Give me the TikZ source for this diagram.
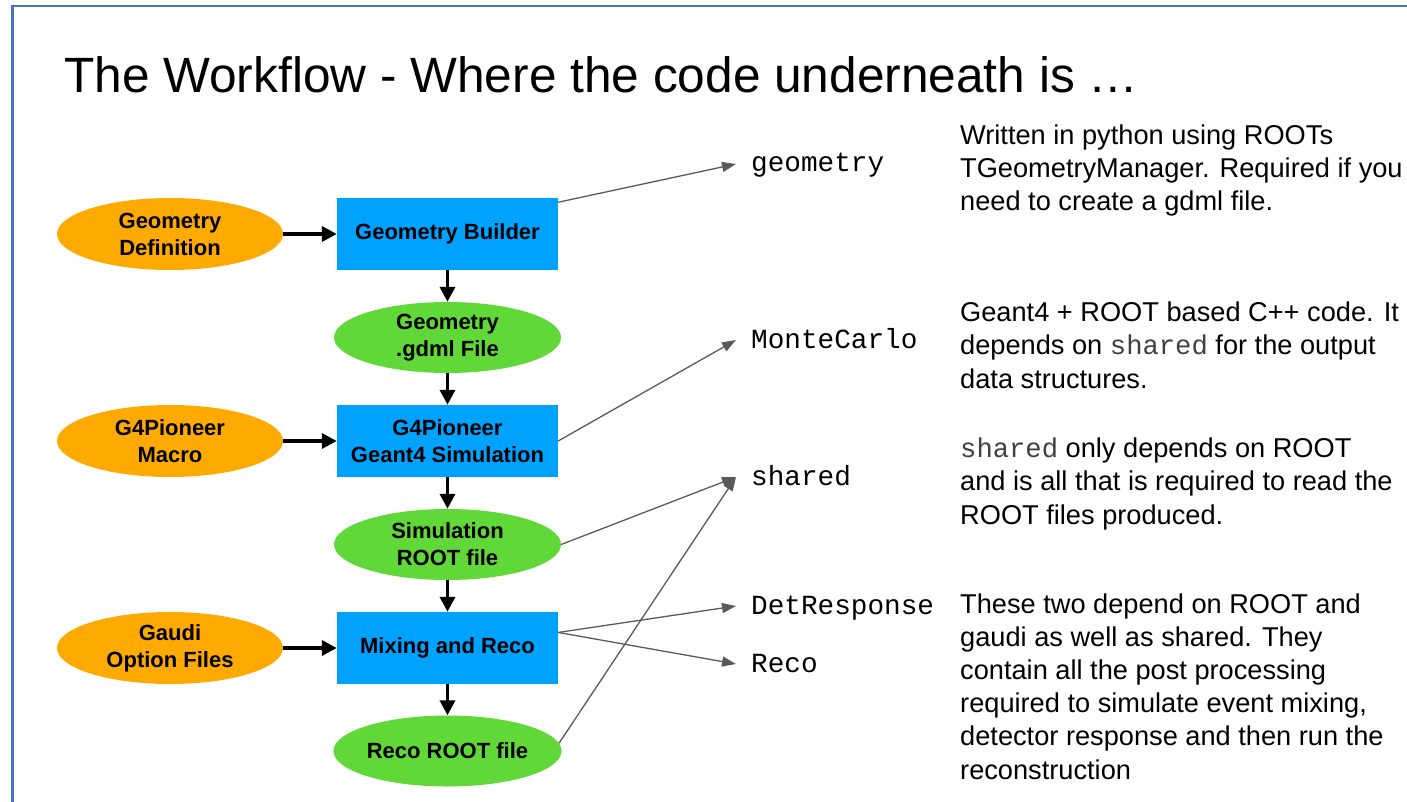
\documentclass[tikz,border=0pt]{standalone}
\usepackage{fontspec}
\setmainfont{Liberation Sans}
\setmonofont{Liberation Mono}
\usetikzlibrary{shapes.geometric, arrows.meta}

\definecolor{flowOrange}{RGB}{255,170,0}
\definecolor{flowGreen}{RGB}{96,216,56}
\definecolor{flowBlue}{RGB}{0,162,255}
\definecolor{frameBlue}{RGB}{72,114,196}
\definecolor{linkGray}{RGB}{90,90,90}

\newcommand{\code}[1]{{\ttfamily\color{black!75}#1}}

\tikzset{
    input/.style={ellipse, fill=flowOrange, minimum width=226pt, minimum height=72pt,
        inner sep=0pt, align=center, font=\fontsize{22}{27}\selectfont\bfseries},
    product/.style={ellipse, fill=flowGreen, minimum width=227pt, minimum height=71pt,
        inner sep=0pt, align=center, font=\fontsize{22}{27}\selectfont\bfseries},
    builder/.style={rectangle, fill=flowBlue, minimum width=221pt, minimum height=72pt,
        inner sep=0pt, align=center, font=\fontsize{22}{27}\selectfont\bfseries},
    module/.style={anchor=west, inner xsep=15pt, inner ysep=0pt, text height=16pt,
        text depth=0pt, font=\ttfamily\fontsize{27.7}{33}\selectfont},
    note/.style={anchor=base west, align=left, inner sep=0pt,
        font=\fontsize{27.2}{33.2}\selectfont},
    flow/.style={line width=3.5pt, -{Triangle[length=15pt, width=15pt]}},
    link/.style={line width=1.3pt, color=linkGray, -{Triangle[length=14pt, width=10pt]}},
    frame/.style={line width=2.2pt, color=frameBlue}
}

\begin{document}
\begin{tikzpicture}[x=1pt, y=-1pt]
        \pgfmathsetmacro{\inputX}{170}
        \pgfmathsetmacro{\stepX}{447.5}
        \pgfmathsetmacro{\labelX}{736}
        \pgfmathsetmacro{\noteX}{960}

        \useasboundingbox (0, 0) rectangle (1407, 802);
        \draw[frame] (1407, 6) -- (12.5, 6) -- (12.5, 802);

        \node[anchor=base west, inner sep=0pt, font=\fontsize{49.6}{60}\selectfont] (title)
            at (64, 93) {The Workflow - Where the code underneath is …};

        \node[builder] (geoBuild) at (\stepX, 234) {Geometry Builder};
        \node[product] (gdmlFile) at (\stepX, 337.5) {Geometry\\.gdml File};
        \node[builder] (g4Sim) at (\stepX, 441) {G4Pioneer\\Geant4 Simulation};
        \node[product] (simFile) at (\stepX, 544.5) {Simulation\\ROOT file};
        \node[builder] (mixReco) at (\stepX, 648) {Mixing and Reco};
        \node[product] (recoFile) at (\stepX, 751) {Reco ROOT file};

        \node[input] (geoDef) at (\inputX, 234) {Geometry\\Definition};
        \node[input] (g4Macro) at (\inputX, 441) {G4Pioneer\\Macro};
        \node[input] (gaudiOpts) at (\inputX, 648) {Gaudi\\Option Files};

        \draw[flow] (geoDef) -- (geoBuild);
        \draw[flow] (g4Macro) -- (g4Sim);
        \draw[flow] (gaudiOpts) -- (mixReco);
        \draw[flow] (geoBuild) -- (gdmlFile);
        \draw[flow] (gdmlFile) -- (g4Sim);
        \draw[flow] (g4Sim) -- (simFile);
        \draw[flow] (simFile) -- (mixReco);
        \draw[flow] (mixReco) -- (recoFile);

        \node[module] (geomLbl) at (\labelX, 164) {geometry};
        \node[module] (mcLbl) at (\labelX, 340) {MonteCarlo};
        \node[module] (sharedLbl) at (\labelX, 477) {shared};
        \node[module] (detLbl) at (\labelX, 606) {DetResponse};
        \node[module] (recoLbl) at (\labelX, 664) {Reco};

        \draw[link] (geoBuild.16) -- (geomLbl.west);
        \draw[link] (g4Sim.east) -- (mcLbl.west);
        \draw[link] (simFile.east) -- (sharedLbl.west);
        \draw[link] (recoFile.4) -- (sharedLbl.west);
        \draw[link] (mixReco.8) -- (detLbl.west);
        \draw[link] (mixReco.8) -- (recoLbl.west);

        \node[note] (geomNote) at (\noteX, 211) {Written in python using ROOTs\\
            TGeometryManager. Required if you\\need to create a gdml file.};
        \node[note] (mcNote) at (\noteX, 388) {Geant4 + ROOT based C++ code. It\\
            depends on \code{shared} for the output\\data structures.};
        \node[note] (sharedNote) at (\noteX, 524) {\code{shared} only depends on ROOT\\
            and is all that is required to read the\\ROOT files produced.};
        \node[note] (recoNote) at (\noteX, 779) {These two depend on ROOT and\\
            gaudi as well as shared. They\\contain all the post processing\\
            required to simulate event mixing,\\detector response and then run the\\
            reconstruction};
    \end{tikzpicture}
\end{document}
